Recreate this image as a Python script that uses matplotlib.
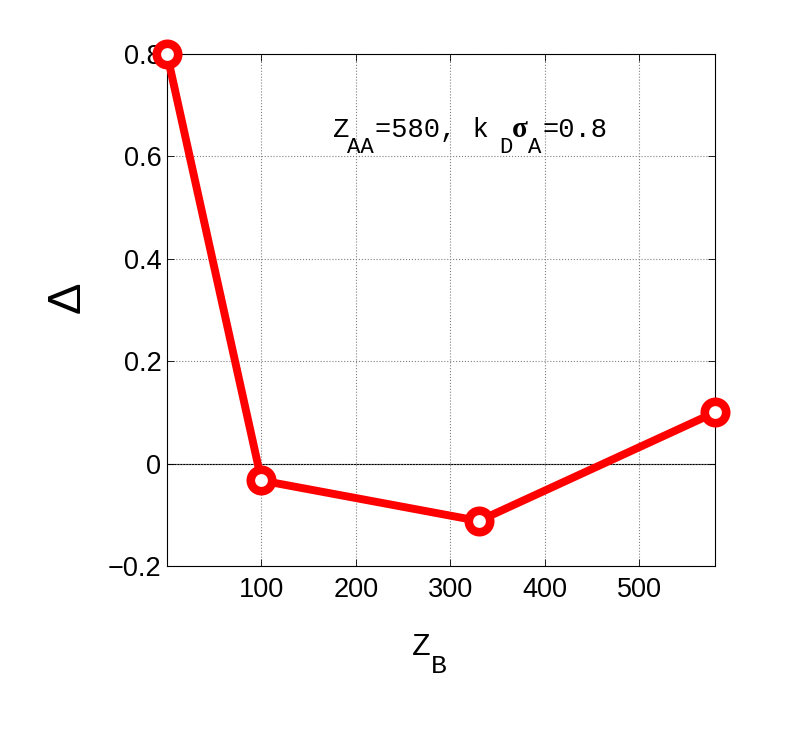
import numpy as np
import matplotlib
matplotlib.use("Agg")
import matplotlib.pyplot as plt

plt.rcParams['font.family'] = ['Liberation Sans', 'DejaVu Sans']

# data
z_b = [0, 100, 330, 580]
delta = [0.8, -0.033, -0.112, 0.1]
x_ticks = [100, 200, 300, 400, 500]
y_ticks = [-0.2, 0, 0.2, 0.4, 0.6, 0.8]
y_ticklabels = ['\u22120.2', '0', '0.2', '0.4', '0.6', '0.8']

W, H = 789, 738
fig = plt.figure(figsize=(W / 100, H / 100), dpi=100)
ax = fig.add_axes([167 / W, 1 - 566 / H, (715 - 167) / W, (566 - 54) / H])

ax.axhline(0, color='black', lw=0.8, zorder=1)
ax.plot(z_b, delta, '-o', color='red', lw=5.7, ms=15.4, mfc='white',
        mec='red', mew=6.2, zorder=3, clip_on=False)

ax.set_xlim(0, 580)
ax.set_ylim(-0.2, 0.8)
ax.set_xticks(x_ticks)
ax.set_yticks(y_ticks)
ax.set_yticklabels(y_ticklabels)
ax.tick_params(direction='in', labelsize=19.5, length=5, width=0.6,
               top=True, right=True)
ax.tick_params(axis='x', pad=8)
ax.tick_params(axis='y', pad=4)
ax.grid(True, ls=':', color='gray', lw=0.8)
for s in ax.spines.values():
    s.set_linewidth(0.8)


def put(x, y, s, size, family='Liberation Mono', weight='normal', **kw):
    # x, y in figure pixels from the top-left, y is the baseline by default
    kw.setdefault('ha', 'left')
    kw.setdefault('va', 'baseline')
    fig.text(x / W, 1 - y / H, s, fontsize=size, family=family,
             weight=weight, **kw)


# annotation  Z_AA=580, k_D sigma_A=0.8  (MATLAB tex style, pieces placed by hand)
put(333, 137, 'Z', 19.5)
put(347, 153, 'AA', 16)
put(375, 137, '=580, k', 19.5)
put(499, 153, 'D', 16)
put(512, 137, '\u03c3', 21, family='Liberation Serif', weight='bold')
put(528, 153, 'A', 16)
put(543, 137, '=0.8', 19.5)

# x label  Z_B
put(412, 655, 'Z', 22.5)
put(431, 673, 'B', 19)

# y label
put(68, 297, '\u0394', 34, family='Liberation Sans', rotation=90,
    ha='center', va='center')

fig.savefig('out.png', dpi=100)
